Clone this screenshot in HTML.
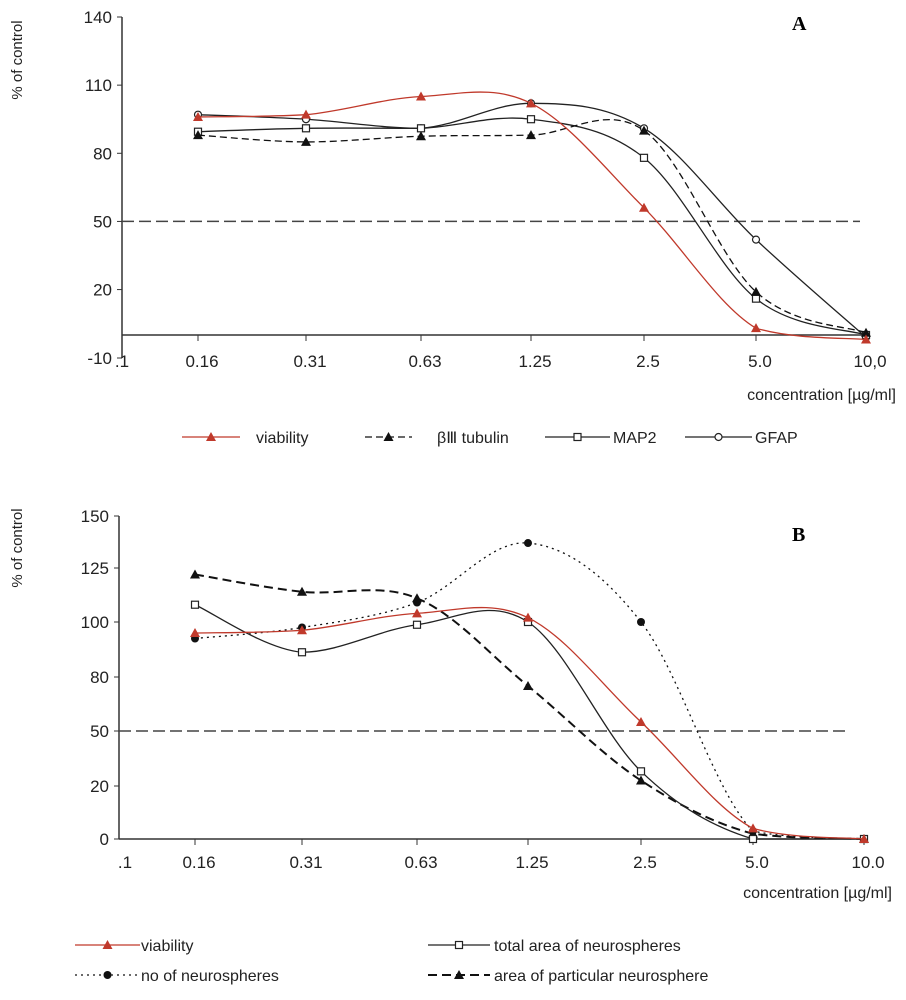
<!DOCTYPE html>
<html><head><meta charset="utf-8">
<style>
body{margin:0;background:#fff;}
svg{display:block;font-family:"Liberation Sans",sans-serif;}
</style></head>
<body>
<svg id="chart" width="906" height="1000" viewBox="0 0 906 1000">
</svg>
<script>
const categories = ["0.16","0.31","0.63","1.25","2.5","5.0","10.0"];
const aTicks = [140,110,80,50,20,-10];
const aViability = [96,97,105,102,56,3,-2];
const aTubulin = [88,85,87.5,88,90,19,1];
const aMap2 = [89.5,91,91,95,78,16,0];
const aGfap = [97,95,91,102,91,42,-1];
const bTicks = [150,125,100,80,50,20,0];
const bViability = [96,97,104,102,55,4,0];
const bTotalArea = [108,89,99,100,28,0,0];
const bNumber = [94,98,109,137,100,3,0];
const bParticular = [122,114,111,75,23,2,0];

const NS="http://www.w3.org/2000/svg";
const svg=document.getElementById('chart');
function mk(tag,attrs,parent,text){const e=document.createElementNS(NS,tag);for(const k in attrs)e.setAttribute(k,attrs[k]);if(text!==undefined)e.textContent=text;(parent||svg).appendChild(e);return e;}

function smoothPath(pts){
  let d="M"+pts[0][0]+","+pts[0][1];
  for(let i=0;i<pts.length-1;i++){
    const p0=pts[i-1]||pts[i],p1=pts[i],p2=pts[i+1],p3=pts[i+2]||p2;
    const t=0.17;
    const lo=Math.max(p1[1],p2[1]);
    const c1=[p1[0]+(p2[0]-p0[0])*t,Math.min(lo,p1[1]+(p2[1]-p0[1])*t)];
    const c2=[p2[0]-(p3[0]-p1[0])*t,Math.min(lo,p2[1]-(p3[1]-p1[1])*t)];
    d+=` C${c1[0]},${c1[1]} ${c2[0]},${c2[1]} ${p2[0]},${p2[1]}`;
  }
  return d;
}
function marker(g,type,x,y,color){
  let m;
  if(type==='tri') m=mk('polygon',{points:`${x},${y-5} ${x-5},${y+4} ${x+5},${y+4}`,fill:color},g);
  else if(type==='sq') m=mk('rect',{x:x-3.5,y:y-3.5,width:7,height:7,fill:'#fff',stroke:color,'stroke-width':1.2},g);
  else if(type==='dia') m=mk('circle',{cx:x,cy:y,r:3.5,fill:'#fff',stroke:color,'stroke-width':1.2},g);
  else m=mk('circle',{cx:x,cy:y,r:4,fill:color},g);
  return m;
}
function series(name,vals,xf,yf,color,dash,mtype,width){
  const g=mk('g',{});
  
  
  const pts=vals.map((v,i)=>[xf(i),yf(v)]);
  const p=mk('path',{d:smoothPath(pts),fill:'none',stroke:color,'stroke-width':width||1.3,'stroke-dasharray':dash||'none'},g);
  
  
  pts.forEach((pt,i)=>{const m=marker(g,mtype,pt[0],pt[1],color);
    
    });
}
function legendItem(x1,x2,y,color,dash,mtype,label,tx,name,width){
  const g=mk('g',{});
  
  
  mk('line',{x1:x1,x2:x2,y1:y,y2:y,stroke:color,'stroke-width':width||1.3,'stroke-dasharray':dash||'none'},g);
  marker(g,mtype,(x1+x2)/2,y,color);
  mk('text',{x:tx,y:y+6,'font-size':16,fill:'#222'},g,label);
}

// ---------- Chart A ----------
const aCatX=[198,306,421,531,644,756,866];
const axA=i=>aCatX[i];
const ayA=v=>335-(v)*(335-17)/140;
(function(){
  const g=mk('g',{});
  mk('line',{x1:122,x2:122,y1:17,y2:358,stroke:'#333','stroke-width':1.5},g);
  mk('line',{x1:122,x2:868,y1:335,y2:335,stroke:'#333','stroke-width':1.5},g);
  aTicks.forEach(t=>{const y=t===-10?358:ayA(t);
    mk('line',{x1:117,x2:122,y1:y,y2:y,stroke:'#333'},g);
    const tx=mk('text',{x:112,y:y+6,'text-anchor':'end','font-size':17,fill:'#222'},g,String(t));
    });
  categories.forEach((c,i)=>{mk('line',{x1:axA(i),x2:axA(i),y1:335,y2:341,stroke:'#333'},g);
    const lab=c==='10.0'?'10,0':c;
    const tx=mk('text',{x:axA(i)+4,y:367,'text-anchor':'middle','font-size':17,fill:'#222'},g,lab);
    });
  mk('text',{x:122,y:367,'text-anchor':'middle','font-size':17,fill:'#222'},g,'.1');
  const th=mk('line',{x1:122,x2:860,y1:ayA(50),y2:ayA(50),stroke:'#444','stroke-width':1.5,'stroke-dasharray':'12,5'});
  
  const yl=mk('text',{x:0,y:0,transform:'translate(22,60) rotate(-90)','text-anchor':'middle','font-size':15,fill:'#222'},undefined,'% of control');
  
  const xl=mk('text',{x:896,y:400,'text-anchor':'end','font-size':16,fill:'#222'},undefined,'concentration  [\u00b5g/ml]');
  
  const A=mk('text',{x:792,y:30,'font-size':20,'font-weight':'bold','font-family':'Liberation Serif, serif'},undefined,'A');
  
})();
series('gfap-series',aGfap,axA,ayA,'#222',null,'dia');
series('map2-series',aMap2,axA,ayA,'#222',null,'sq');
series('tubulin-series',aTubulin,axA,ayA,'#111','7,4','tri');
series('viability-series-a',aViability,axA,ayA,'#c0392b',null,'tri');
legendItem(182,240,437,'#c0392b',null,'tri','viability',256,'legend-viability-a');
legendItem(365,412,437,'#111','7,4','tri','\u03b2\u2162 tubulin',437,'legend-tubulin');
legendItem(545,610,437,'#222',null,'sq','MAP2',613,'legend-map2');
legendItem(685,752,437,'#222',null,'dia','GFAP',755,'legend-gfap');

// ---------- Chart B ----------
const bCatX=[195,302,417,528,641,753,864];
const bTickY=[516,568,622,677,731,786,839];
const axB=i=>bCatX[i];
const ayB=v=>{
  for(let i=0;i<bTicks.length-1;i++){const a=bTicks[i],b=bTicks[i+1];
    if(v<=a&&v>=b) return bTickY[i]+(a-v)/(a-b)*(bTickY[i+1]-bTickY[i]);}
  if(v>bTicks[0]) return bTickY[0]-(v-bTicks[0])*(bTickY[1]-bTickY[0])/(bTicks[0]-bTicks[1]);
  return bTickY[6]+(0-v)*(bTickY[6]-bTickY[5])/20;
};
(function(){
  const g=mk('g',{});
  mk('line',{x1:119,x2:119,y1:516,y2:839,stroke:'#333','stroke-width':1.5},g);
  mk('line',{x1:119,x2:866,y1:839,y2:839,stroke:'#333','stroke-width':1.5},g);
  bTicks.forEach(t=>{const y=ayB(t);
    mk('line',{x1:114,x2:119,y1:y,y2:y,stroke:'#333'},g);
    const tx=mk('text',{x:109,y:y+6,'text-anchor':'end','font-size':17,fill:'#222'},g,String(t));
    });
  categories.forEach((c,i)=>{mk('line',{x1:axB(i),x2:axB(i),y1:839,y2:845,stroke:'#333'},g);
    const tx=mk('text',{x:axB(i)+4,y:868,'text-anchor':'middle','font-size':17,fill:'#222'},g,c);
    });
  mk('text',{x:125,y:868,'text-anchor':'middle','font-size':17,fill:'#222'},g,'.1');
  const th=mk('line',{x1:119,x2:850,y1:ayB(50),y2:ayB(50),stroke:'#444','stroke-width':1.5,'stroke-dasharray':'12,5'});
  
  const yl=mk('text',{x:0,y:0,transform:'translate(22,548) rotate(-90)','text-anchor':'middle','font-size':15,fill:'#222'},undefined,'% of control');
  
  const xl=mk('text',{x:892,y:898,'text-anchor':'end','font-size':16,fill:'#222'},undefined,'concentration [\u00b5g/ml]');
  
  const B=mk('text',{x:792,y:541,'font-size':20,'font-weight':'bold','font-family':'Liberation Serif, serif'},undefined,'B');
  
})();
series('number-neurospheres-series',bNumber,axB,ayB,'#111','2,4','dot');
series('particular-area-series',bParticular,axB,ayB,'#111','9,5','tri',2);
series('total-area-series',bTotalArea,axB,ayB,'#222',null,'sq');
series('viability-series-b',bViability,axB,ayB,'#c0392b',null,'tri');
legendItem(75,140,945,'#c0392b',null,'tri','viability',141,'legend-viability-b');
legendItem(428,490,945,'#222',null,'sq','total area of neurospheres',494,'legend-total-area');
legendItem(75,140,975,'#111','2,4','dot','no of neurospheres',141,'legend-number');
legendItem(428,490,975,'#111','9,5','tri','area of particular neurosphere',494,'legend-particular-area',2);
</script>
</body></html>
